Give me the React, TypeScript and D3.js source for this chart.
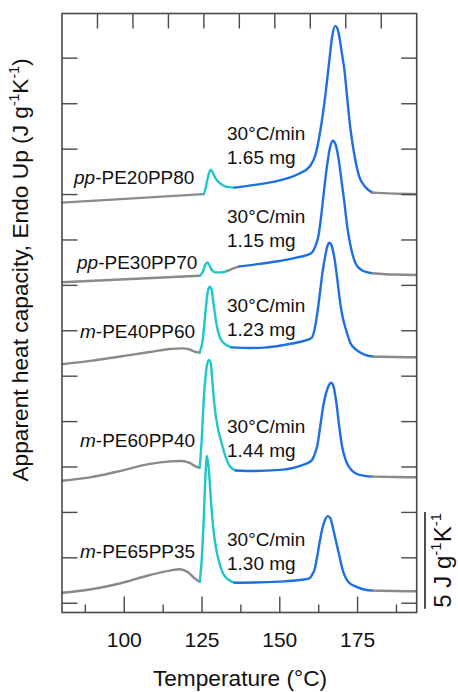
import React from 'react';
import * as d3 from 'd3';

// temperature (°C), apparent heat capacity incl. vertical offset (J g-1 K-1)
type Pt = [number, number];

const pp20Pre: Pt[] = [[80, 21.21], [125.54, 21.65]];
const pp20PE: Pt[] = [[125.54, 21.65], [126.18, 21.97], [126.98, 22.59], [127.78, 22.92], [128.42, 22.77], [129.39, 22.46], [130.67, 22.23], [132.59, 22.04], [135.48, 21.99]];
const pp20PP: Pt[] = [[135.48, 21.99], [141.89, 22.13], [149.91, 22.36], [156.32, 22.72], [159.53, 23.07], [161.45, 23.68], [163.06, 24.97], [164.66, 26.79], [165.94, 28.6], [166.91, 29.89], [167.87, 30.36], [168.83, 30.05], [169.79, 29.11], [170.76, 28.08], [171.72, 26.52], [172.68, 25.07], [173.97, 23.68], [175.57, 22.54], [177.49, 22.02], [179.74, 21.73]];
const pp20Post: Pt[] = [[179.74, 21.73], [186.8, 21.68], [193.85, 21.65]];

const pp30Pre: Pt[] = [[80, 17.09], [124.26, 17.43]];
const pp30PE: Pt[] = [[124.26, 17.43], [125.22, 17.62], [126.02, 17.99], [126.66, 18.12], [127.3, 17.99], [128.11, 17.73], [129.39, 17.6], [131.31, 17.6], [133.24, 17.68]];
const pp30Mid: Pt[] = [[133.24, 17.68], [135.16, 17.81], [137.08, 17.91]];
const pp30PP: Pt[] = [[137.08, 17.91], [143.5, 18.04], [149.91, 18.19], [156.33, 18.4], [160.08, 18.59], [161.46, 18.97], [162.42, 19.49], [163.38, 20.63], [164.34, 22.02], [165.31, 23.27], [166.27, 24.15], [167.01, 24.42], [167.87, 24.25], [168.84, 23.53], [169.8, 22.39], [170.76, 21.2], [171.72, 19.91], [173.01, 18.77], [174.29, 18.09], [176.21, 17.73], [179.74, 17.56]];
const pp30Post: Pt[] = [[179.74, 17.56], [186.8, 17.49], [193.85, 17.47]];

const m40Pre: Pt[] = [[80, 12.85], [88.98, 13.02], [98.6, 13.25], [108.22, 13.48], [114.63, 13.64], [118.48, 13.67], [121.05, 13.61], [122.97, 13.48], [124.25, 13.45]];
const m40PE: Pt[] = [[124.25, 13.45], [125.22, 14.1], [126.18, 15.66], [126.82, 16.59], [127.46, 16.86], [128.11, 16.69], [128.75, 15.92], [129.71, 14.88], [130.67, 14.26], [132.28, 13.9], [134.52, 13.72]];
const m40PP: Pt[] = [[134.52, 13.72], [140.29, 13.69], [145.1, 13.71], [151.52, 13.85], [156.33, 14.0], [160.08, 14.19], [161.14, 14.62], [162.1, 15.55], [162.74, 16.33], [163.7, 17.57], [164.67, 18.5], [165.31, 18.97], [165.95, 19.14], [166.59, 19.02], [167.55, 18.35], [168.51, 17.21], [169.15, 16.33], [170.12, 15.35], [171.3, 14.62], [172.68, 13.95], [174.61, 13.59], [177.17, 13.35], [180.06, 13.24]];
const m40Post: Pt[] = [[180.06, 13.24], [186.8, 13.22], [193.85, 13.21]];

const m60Pre: Pt[] = [[80, 6.82], [88.98, 6.99], [98.6, 7.32], [108.22, 7.69], [114.64, 7.82], [118.48, 7.84], [121.05, 7.74], [122.97, 7.56], [124.25, 7.49]];
const m60PE: Pt[] = [[124.25, 7.49], [124.9, 8.93], [125.54, 11.0], [126.18, 12.29], [126.82, 12.97], [127.24, 13.07], [127.79, 12.91], [128.43, 11.77], [129.07, 10.63], [130.03, 9.6], [131.22, 8.82], [132.59, 8.05], [133.88, 7.58], [135.8, 7.35]];
const m60PP: Pt[] = [[135.8, 7.35], [141.9, 7.32], [149.91, 7.38], [156.33, 7.58], [160.08, 7.84], [161.14, 8.15], [162.1, 8.67], [163.06, 9.71], [164.02, 10.74], [164.98, 11.42], [165.79, 11.77], [166.49, 11.89], [167.23, 11.72], [168.19, 10.84], [169.15, 9.55], [170.12, 8.51], [171.4, 7.79], [173.0, 7.38], [175.57, 7.12], [179.83, 7.03]];
const m60Post: Pt[] = [[179.83, 7.03], [186.8, 7.01], [193.85, 7.0]];

const m65Pre: Pt[] = [[80, 1.02], [88.98, 1.19], [98.6, 1.5], [108.22, 1.94], [114.64, 2.17], [117.84, 2.24], [120.41, 2.1], [122.66, 1.76], [124.25, 1.59]];
const m65PE: Pt[] = [[124.25, 1.59], [124.9, 2.72], [125.54, 4.79], [126.12, 7.12], [126.6, 8.1], [127.14, 7.48], [128.01, 5.48], [128.75, 4.17], [129.61, 3.24], [130.67, 2.51], [131.73, 2.03], [133.24, 1.73], [135.48, 1.54]];
const m65PP: Pt[] = [[135.48, 1.54], [141.9, 1.55], [149.91, 1.6], [156.33, 1.68], [159.53, 1.77], [160.5, 1.99], [161.14, 2.2], [161.94, 2.82], [162.74, 3.58], [163.71, 4.37], [164.67, 4.84], [165.4, 4.99], [166.27, 4.87], [167.23, 4.27], [168.19, 3.6], [169.15, 2.92], [170.21, 2.2], [172.04, 1.58], [174.51, 1.34], [177.17, 1.19], [180.06, 1.13]];
const m65Post: Pt[] = [[180.06, 1.13], [186.8, 1.11], [193.85, 1.1]];

const samplePrefix = ['pp', 'pp', 'm', 'm', 'm'];
const sampleName = ['PE20PP80', 'PE30PP70', 'PE40PP60', 'PE60PP40', 'PE65PP35'];
const rates = ['30°C/min', '30°C/min', '30°C/min', '30°C/min', '30°C/min'];
const masses = ['1.65 mg', '1.15 mg', '1.23 mg', '1.44 mg', '1.30 mg'];

const xMajor = [100, 125, 150, 175];
const xMinor = [87.5, 112.5, 137.5, 162.5, 187.5];
const xTop = [91.4, 102.8, 114.2, 125.6, 137, 148.4, 159.8, 171.2, 182.6];
const yTicks = [0.48, 2.83, 5.18, 7.53, 9.88, 12.23, 14.58, 16.93, 19.28, 21.63, 23.98, 26.33, 28.69];
const scaleBar = [0.2, 5.2];

const GRAY = '#8a8a8a';
const CYAN = '#1fc6cb';
const BLUE = '#1e6fe4';

const segments: [Pt[], string][] = [
  [pp20Pre, GRAY], [pp20PE, CYAN], [pp20PP, BLUE], [pp20Post, GRAY],
  [pp30Pre, GRAY], [pp30PE, CYAN], [pp30Mid, GRAY], [pp30PP, BLUE], [pp30Post, GRAY],
  [m40Pre, GRAY], [m40PE, CYAN], [m40PP, BLUE], [m40Post, GRAY],
  [m60Pre, GRAY], [m60PE, CYAN], [m60PP, BLUE], [m60Post, GRAY],
  [m65Pre, GRAY], [m65PE, CYAN], [m65PP, BLUE], [m65Post, GRAY],
];

// label placement (px)
const nameXY = [[74, 184], [77, 269], [80, 338], [80, 447], [80, 558]];
const noteXY = [[227, 140], [227, 223], [227, 312], [227, 433], [227, 546]];

const FONT = '"Liberation Sans", Arial, sans-serif';

export default function App() {
  const W = 458, H = 692;
  const x = d3.scaleLinear().domain([80, 194]).range([62, 416.7]);
  const y = d3.scaleLinear().domain([0, 31]).range([612.5, 13.5]);
  const [x0, x1] = x.range();
  const [yb, yt] = y.range();
  const line = d3.line<Pt>().x(d => x(d[0])).y(d => y(d[1])).curve(d3.curveMonotoneX);
  const axisCol = '#4a4a4a';

  return (
    <svg width={W} height={H} style={{ position: 'absolute', left: 0, top: 0, background: '#fff' }} fontFamily={FONT}>
      {segments.map(([pts, c], i) => (
        <path key={i} d={line(pts) || ''} fill="none" stroke={c} strokeWidth={2.4} strokeLinejoin="round" strokeLinecap="round" />
      ))}

      <rect x={x0} y={yt} width={x1 - x0} height={yb - yt} fill="none" stroke={axisCol} strokeWidth={1.6} />
      {xMajor.map(t => <line key={'M' + t} x1={x(t)} x2={x(t)} y1={yb} y2={yb - 16} stroke={axisCol} strokeWidth={1.4} />)}
      {xMinor.map(t => <line key={'m' + t} x1={x(t)} x2={x(t)} y1={yb} y2={yb - 8} stroke={axisCol} strokeWidth={1.4} />)}
      {xTop.map(t => <line key={'t' + t} x1={x(t)} x2={x(t)} y1={yt} y2={yt + 15} stroke={axisCol} strokeWidth={1.4} />)}
      {yTicks.map(v => (
        <g key={'y' + v}>
          <line x1={x0} x2={x0 + 15.5} y1={y(v)} y2={y(v)} stroke={axisCol} strokeWidth={1.4} />
          <line x1={x1} x2={x1 - 15.5} y1={y(v)} y2={y(v)} stroke={axisCol} strokeWidth={1.4} />
        </g>
      ))}
      {xMajor.map(t => (
        <text key={'l' + t} x={x(t)} y={647} textAnchor="middle" fontSize={21} fill="#111">{t}</text>
      ))}
      <text x={240} y={686} textAnchor="middle" fontSize={22.7} fill="#111">Temperature (°C)</text>
      <text transform="translate(28,270) rotate(-90)" textAnchor="middle" fontSize={22.7} fill="#111">
        Apparent heat capacity, Endo Up (J g<tspan fontSize={14} dy={-9}>-1</tspan><tspan dy={9}>K</tspan><tspan fontSize={14} dy={-9}>-1</tspan><tspan dy={9}>)</tspan>
      </text>

      <line x1={425} x2={425} y1={y(scaleBar[0])} y2={y(scaleBar[1])} stroke="#222" strokeWidth={1.6} />
      <text transform={`translate(451,${(y(scaleBar[0]) + y(scaleBar[1])) / 2}) rotate(-90)`} textAnchor="middle" fontSize={24} fill="#111">
        5 J g<tspan fontSize={15} dy={-10}>-1</tspan><tspan dy={10}>K</tspan><tspan fontSize={15} dy={-10}>-1</tspan>
      </text>

      {sampleName.map((n, i) => (
        <text key={n} x={nameXY[i][0]} y={nameXY[i][1]} fontSize={19} fill="#111">
          <tspan fontStyle="italic">{samplePrefix[i]}</tspan>-{n}
        </text>
      ))}
      {rates.map((r, i) => (
        <g key={'n' + i}>
          <text x={noteXY[i][0]} y={noteXY[i][1]} fontSize={19} fill="#111">{r}</text>
          <text x={noteXY[i][0]} y={noteXY[i][1] + 24} fontSize={19} fill="#111">{masses[i]}</text>
        </g>
      ))}
    </svg>
  );
}
